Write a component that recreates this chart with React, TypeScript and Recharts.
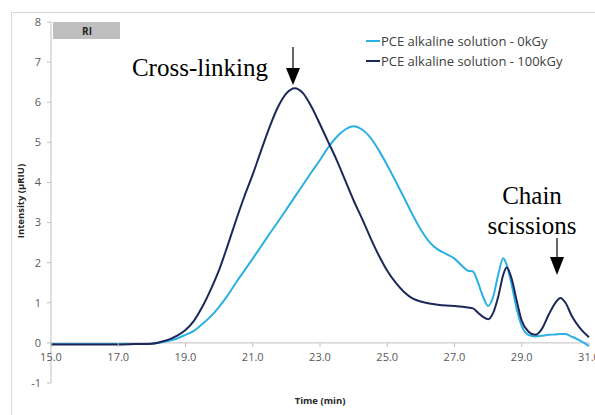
import React from "react";
import { LineChart, Line, XAxis, YAxis, ReferenceLine, Legend } from "recharts";

// elution time (min)
const times = [
  15, 16, 17, 17.5, 18, 18.25, 18.5, 18.75, 19, 19.25, 19.5, 19.75, 20, 20.25, 20.5, 20.75, 21,
  21.25, 21.5, 21.75, 22, 22.25, 22.5, 22.75, 23, 23.25, 23.5, 23.75, 24, 24.25, 24.5, 24.75, 25,
  25.25, 25.5, 25.75, 26, 26.25, 26.5, 26.75, 27, 27.25, 27.4, 27.55, 27.7, 27.85, 28, 28.15,
  28.3, 28.45, 28.55, 28.7, 28.85, 29, 29.2, 29.4, 29.6, 29.8, 30, 30.15, 30.3, 30.5, 30.75, 31,
];

// PCE alkaline solution - 0kGy
const dose0 = [
  -0.03, -0.03, -0.03, -0.03, -0.02, 0.01, 0.05, 0.11, 0.2, 0.3, 0.47, 0.66, 0.9, 1.18, 1.5, 1.8,
  2.1, 2.41, 2.72, 3.02, 3.33, 3.64, 3.95, 4.26, 4.56, 4.88, 5.14, 5.32, 5.4, 5.32, 5.12, 4.8,
  4.43, 4.03, 3.62, 3.2, 2.82, 2.52, 2.33, 2.22, 2.1, 1.9, 1.8, 1.78, 1.5, 1.15, 0.92, 1.15, 1.7,
  2.11, 1.95, 1.45, 0.85, 0.42, 0.2, 0.16, 0.18, 0.2, 0.21, 0.22, 0.22, 0.15, 0.05, -0.08,
];

// PCE alkaline solution - 100kGy
const dose100 = [
  -0.04, -0.04, -0.04, -0.03, -0.02, 0.02, 0.08, 0.18, 0.32, 0.55, 0.9, 1.33, 1.82, 2.42, 3.05,
  3.65, 4.2, 4.8, 5.38, 5.88, 6.22, 6.35, 6.22, 5.88, 5.45, 5.0, 4.55, 4.05, 3.55, 3.1, 2.62,
  2.18, 1.8, 1.5, 1.27, 1.11, 1.03, 0.98, 0.95, 0.93, 0.92, 0.9, 0.88, 0.86, 0.75, 0.65, 0.59,
  0.75, 1.15, 1.7, 1.88, 1.6, 1.05, 0.55, 0.28, 0.2, 0.35, 0.7, 1.0, 1.12, 1.0, 0.65, 0.35, 0.14,
];

const xTicks = [15, 17, 19, 21, 23, 25, 27, 29, 31];
const yTicks = [-1, 0, 1, 2, 3, 4, 5, 6, 7, 8];

const seriesNames = ["PCE alkaline solution - 0kGy", "PCE alkaline solution - 100kGy"];
const LIGHT = "#2bb0e3";
const DARK = "#1c2859";

const data = times.map((t, i) => ({ t, a: dose0[i], b: dose100[i] }));

const tickFont = { fontFamily: "Open Sans", fontSize: 11, fill: "#595959" };

// x axis sits on y = 0, one unit (40px) above the plot bottom
const XTick = (props: any) => {
  const { x, y, payload } = props;
  const y0 = y - 40;
  return (
    <g>
      <line x1={x} x2={x} y1={y0} y2={y0 + 4} stroke="#bfbfbf" />
      <text x={x} y={y0 + 18} textAnchor="middle" {...tickFont}>
        {Number(payload.value).toFixed(1)}
      </text>
    </g>
  );
};

const LegendBox = () => (
  <div style={{ fontFamily: "Open Sans", fontSize: 13, color: "#404040", lineHeight: "20px" }}>
    {seriesNames.map((n, i) => (
      <div key={n} style={{ display: "flex", alignItems: "center" }}>
        <span
          style={{
            display: "inline-block",
            width: 14,
            height: 2,
            background: i === 0 ? LIGHT : DARK,
            marginRight: 1,
          }}
        />
        {n}
      </div>
    ))}
  </div>
);

export default function App() {
  return (
    <div style={{ position: "absolute", left: 0, top: 0, width: 595, height: 415, overflow: "hidden", background: "#fff" }}>
      <div
        style={{
          position: "absolute",
          left: 11,
          top: 12,
          width: 620,
          height: 440,
          border: "1px solid #d9d9d9",
        }}
      />
      <LineChart
        width={595}
        height={415}
        data={data}
        margin={{ top: 22, right: 6, bottom: 2, left: 0 }}
        style={{ position: "absolute", left: 0, top: 0 }}
      >
        <XAxis
          dataKey="t"
          type="number"
          domain={[15, 31]}
          ticks={xTicks}
          axisLine={false}
          tickLine={false}
          tickSize={0}
          tickMargin={0}
          height={30}
          tick={<XTick />}
          interval={0}
        />
        <YAxis
          type="number"
          domain={[-1, 8]}
          ticks={yTicks}
          width={51}
          tickSize={4}
          tickMargin={6}
          axisLine={{ stroke: "#bfbfbf" }}
          tickLine={{ stroke: "#bfbfbf" }}
          tick={tickFont}
          interval={0}
        />
        <ReferenceLine y={0} stroke="#bfbfbf" />
        <Legend
          content={<LegendBox />}
          layout="horizontal"
          verticalAlign="middle"
          align="center"
          wrapperStyle={{ position: "absolute", left: 366, top: 31, width: 230 }}
        />
        <Line dataKey="a" name={seriesNames[0]} type="monotone" stroke={LIGHT} strokeWidth={2} dot={false} isAnimationActive={false} />
        <Line dataKey="b" name={seriesNames[1]} type="monotone" stroke={DARK} strokeWidth={2} dot={false} isAnimationActive={false} />
      </LineChart>
      <svg width={595} height={415} style={{ position: "absolute", left: 0, top: 0, pointerEvents: "none" }}>
        <rect x={53} y={22} width={67} height={17} fill="#bfbfbf" />
        <text x={87} y={35} textAnchor="middle" fontFamily="Open Sans" fontWeight="bold" fontSize={10} fill="#262626">
          RI
        </text>
        <text
          transform="translate(24,201) rotate(-90)"
          textAnchor="middle"
          fontFamily="Open Sans"
          fontWeight="bold"
          fontSize={9.5}
          fill="#262626"
        >
          Intensity (µRIU)
        </text>
        <text x={320} y={404} textAnchor="middle" fontFamily="Open Sans" fontWeight="bold" fontSize={9.5} fill="#262626">
          Time (min)
        </text>
        <text x={200} y={76} textAnchor="middle" fontFamily="Liberation Serif" fontSize={25} fill="#000">
          Cross-linking
        </text>
        <line x1={293} x2={293} y1={47} y2={70} stroke="#000" strokeWidth={1.2} />
        <polygon points="286,68 300,68 293,85" fill="#000" />
        <text x={532} y={204} textAnchor="middle" fontFamily="Liberation Serif" fontSize={25} fill="#000">
          Chain
        </text>
        <text x={532} y={234} textAnchor="middle" fontFamily="Liberation Serif" fontSize={25} fill="#000">
          scissions
        </text>
        <line x1={557} x2={557} y1={238} y2={258} stroke="#000" strokeWidth={1.2} />
        <polygon points="550,257 564,257 557,275" fill="#000" />
      </svg>
    </div>
  );
}
